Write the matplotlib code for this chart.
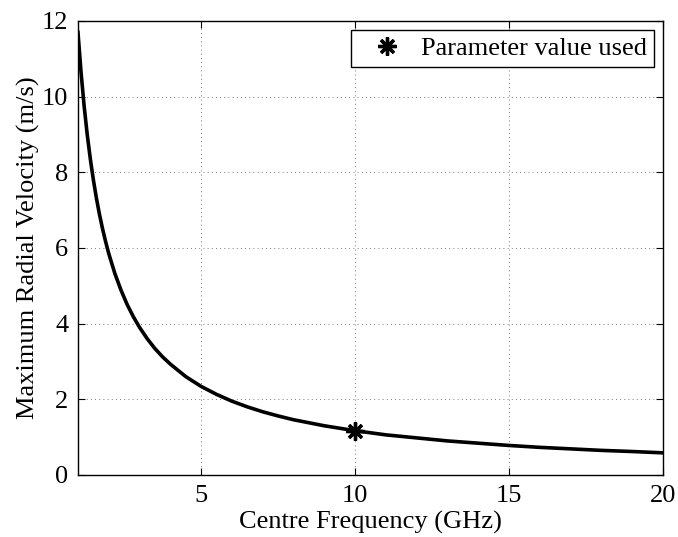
import numpy as np
import matplotlib.pyplot as plt

# Values
freq_ghz = [1, 1.1, 1.2, 1.3, 1.4, 1.5, 1.6, 1.7, 1.8, 1.9, 2, 2.2, 2.4, 2.6, 2.8, 3,
            3.25, 3.5, 3.75, 4, 4.5, 5, 5.5, 6, 6.5, 7, 7.5, 8, 9, 10,
            11, 12, 13, 14, 15, 16, 17, 18, 19, 20]
max_vel = [11.7, 10.64, 9.75, 9.0, 8.36, 7.8, 7.31, 6.88, 6.5, 6.16, 5.85, 5.32, 4.88,
           4.5, 4.18, 3.9, 3.6, 3.34, 3.12, 2.93, 2.6, 2.34, 2.13, 1.95, 1.8, 1.67,
           1.56, 1.46, 1.3, 1.17, 1.06, 0.98, 0.9, 0.84, 0.78, 0.73, 0.69,
           0.65, 0.62, 0.585]
used_freq = [10]
used_vel = [1.17]

plt.rcParams['font.family'] = ['Liberation Serif', 'DejaVu Serif']

fig = plt.figure(figsize=(6.78, 5.37), dpi=100)
ax = fig.add_axes([0.115, 0.1155, 0.863, 0.8455])

ax.plot(freq_ghz, max_vel, color='black', linewidth=2.6, solid_joinstyle='round')
ax.plot(used_freq, used_vel, linestyle='none', marker=(8, 2, 0), markersize=13,
        markeredgewidth=2.4, color='black', label='Parameter value used')

ax.set_xlim(1, 20)
ax.set_ylim(0, 12)
ax.set_xticks([5, 10, 15, 20])
ax.set_yticks([0, 2, 4, 6, 8, 10, 12])
ax.grid(True, linestyle=(0, (1, 4)), color='black', linewidth=0.6, alpha=0.7)
ax.tick_params(direction='in', top=True, right=True, labelsize=19, length=5, pad=7)
for s in ax.spines.values():
    s.set_linewidth(1.0)

ax.set_xlabel('Centre Frequency (GHz)', fontsize=19, labelpad=3)
ax.set_ylabel('Maximum Radial Velocity (m/s)', fontsize=19, labelpad=1)

leg = ax.legend(loc='upper right', fontsize=19, fancybox=False, framealpha=1,
                edgecolor='black', borderaxespad=0.35, handletextpad=0.2,
                handlelength=2.2, borderpad=0.25)
leg.get_frame().set_linewidth(1.0)

fig.savefig('out.png', dpi=100)
